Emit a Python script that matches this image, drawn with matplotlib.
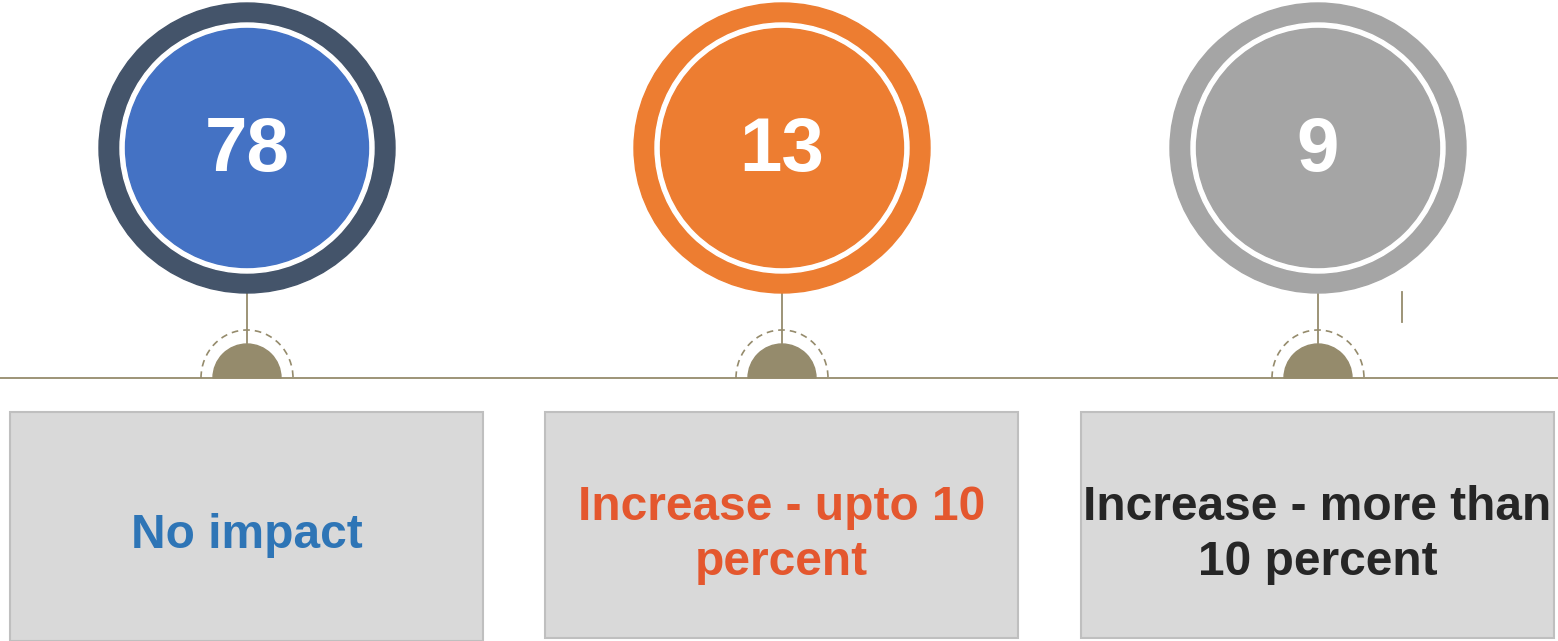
import matplotlib.pyplot as plt
from matplotlib.patches import Ellipse, Wedge, Arc, Rectangle

plt.rcParams["font.family"] = ["Liberation Sans", "DejaVu Sans"]

values = [78, 13, 9]
labels = ["No impact", "Increase - upto 10\npercent", "Increase - more than\n10 percent"]
ring_colors = ["#44546a", "#ed7d31", "#a5a5a5"]
fill_colors = ["#4472c4", "#ed7d31", "#a5a5a5"]
text_colors = ["#2e75b6", "#e4572e", "#262626"]

TAN = "#958b6c"
W, H = 1558, 641

fig = plt.figure(figsize=(W / 100, H / 100), dpi=100)
ax = fig.add_axes([0, 0, 1, 1])
ax.set_xlim(0, W)
ax.set_ylim(H, 0)
ax.axis("off")

# baseline
ax.plot([0, W], [378, 378], color=TAN, lw=1.3, zorder=1)

centers = [247, 782, 1318]
box_lefts = [10, 545, 1081]
box_bottoms = [641, 638, 638]

for i, cx in enumerate(centers):
    cy = 148
    ax.add_patch(Ellipse((cx, cy), 296, 290, color=ring_colors[i], zorder=2))
    ax.add_patch(Ellipse((cx, cy), 254, 250, color="white", zorder=3))
    ax.add_patch(Ellipse((cx, cy), 243, 239, color=fill_colors[i], zorder=4))
    ax.text(cx, cy + 4, str(values[i]), color="white", fontsize=55, fontweight="bold",
            ha="center", va="center", zorder=5)

    # stem and marker
    ax.plot([cx, cx], [292, 343], color=TAN, lw=1.3, zorder=1)
    ax.add_patch(Arc((cx, 378), 92, 96, theta1=180, theta2=360, color=TAN,
                     lw=1.2, ls=(0, (4, 3)), zorder=2))
    ax.add_patch(Wedge((cx, 378), 34, 180, 360, color=TAN, zorder=3))

    # label box
    x0 = box_lefts[i]
    ax.add_patch(Rectangle((x0, 412), 473, box_bottoms[i] - 412, facecolor="#d9d9d9",
                           edgecolor="#bfbfbf", lw=1.5, zorder=2))
    ax.text(x0 + 236.5, 535, labels[i], color=text_colors[i], fontsize=34.5,
            fontweight="bold", ha="center", va="center", linespacing=1.26, zorder=3)

# small stray tick
ax.plot([1402, 1402], [292, 322], color=TAN, lw=1.3)

fig.savefig("out.png", dpi=100)
